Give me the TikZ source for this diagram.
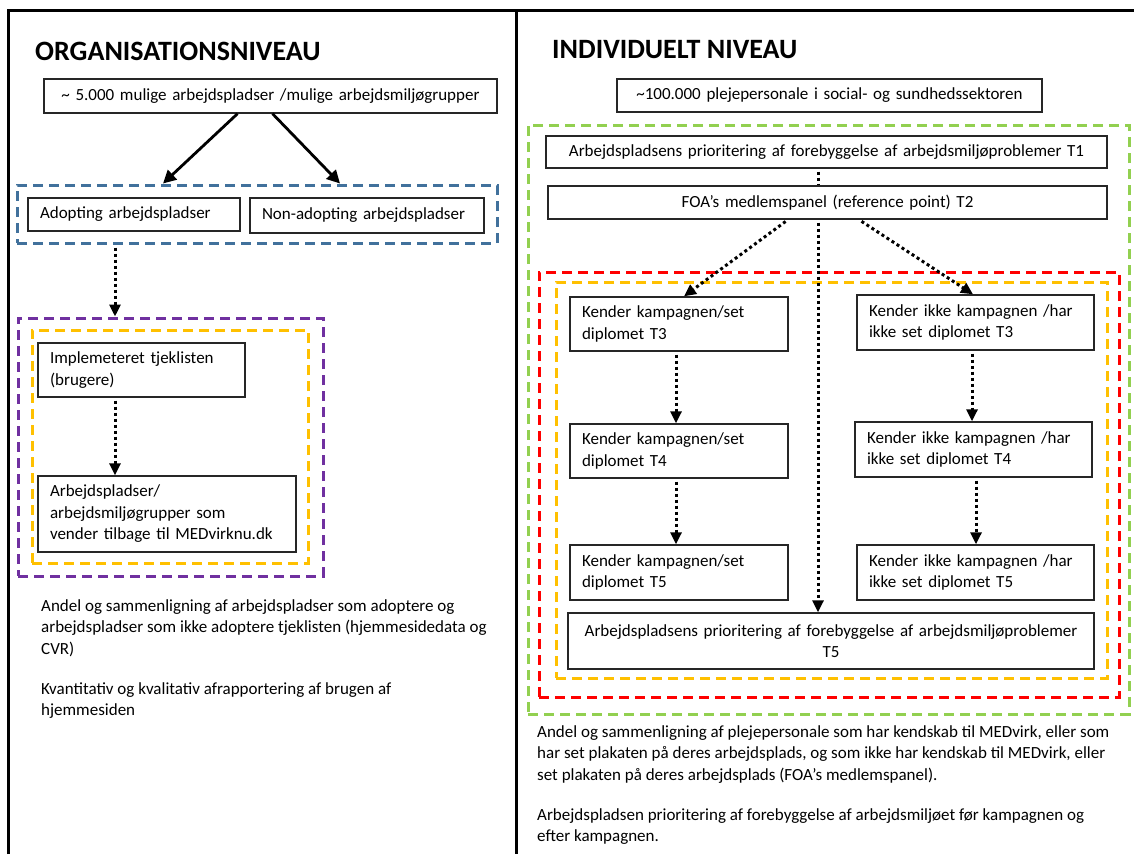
\documentclass[tikz,border=0pt]{standalone}
\usepackage{fontspec}
\setmainfont{Carlito}
\usetikzlibrary{arrows.meta}
\definecolor{dblue}{HTML}{41719C}
\definecolor{dpurple}{HTML}{7030A0}
\definecolor{dorange}{HTML}{FFC000}
\definecolor{dred}{HTML}{FF0000}
\definecolor{dgreen}{HTML}{92D050}
\hyphenpenalty=10000
\exhyphenpenalty=10000
\newcommand\bodyfont{\fontsize{17}{21.5}\selectfont}
\newcommand\titlefont{\fontsize{28}{30}\selectfont\bfseries}
\newcommand\bx[7]{%
  \pgfmathsetmacro\bxw{#4-#2}\pgfmathsetmacro\bxh{#5-#3}\pgfmathsetmacro\bxt{#4-#2-24}%
  \node[box,minimum width=\bxw pt,minimum height=\bxh pt,text width=\bxt pt,align=#6] (#1) at ({(#2+#4)/2},{(#3+#5)/2}) {#7};}
\newcommand\grpbox[6]{%
  \pgfmathsetmacro\bxw{#5-#3}\pgfmathsetmacro\bxh{#6-#4}%
  \node[grp,draw=#2,minimum width=\bxw pt,minimum height=\bxh pt] (#1) at ({(#3+#5)/2},{(#4+#6)/2}) {};}
\begin{document}
\begin{tikzpicture}[x=1pt,y=-1pt,
  box/.style={draw=black!85,line width=1.4pt,fill=white,inner xsep=12pt,inner ysep=0pt,font=\bodyfont},
  grp/.style={line width=3pt,dash pattern=on 10pt off 6pt,inner sep=0pt},
  solidarrow/.style={line width=2.8pt,-{Triangle[length=13pt,width=13pt]}},
  dotarrow/.style={line width=3pt,dash pattern=on 3pt off 3pt,shorten <=3pt,-{Triangle[length=12pt,width=11pt]}},
  dotline/.style={line width=3pt,dash pattern=on 3pt off 3pt},
  frame/.style={line width=3pt},
  note/.style={anchor=north west,inner sep=0pt,align=left,font=\bodyfont},
  title/.style={anchor=base west,inner sep=0pt,font=\titlefont}]
\useasboundingbox (0,0) rectangle (1134,854);
% frame
\draw[frame] (8,854) -- (8,10) -- (1134,10);
\draw[frame] (516,10) -- (516,854);
% titles
\node[title] (torg) at (35,60) {ORGANISATIONSNIVEAU};
\node[title] (tind) at (552,58) {INDIVIDUELT NIVEAU};
% ---------- left panel
\grpbox{blue}{dblue}{17}{185}{497}{243}
\grpbox{purple}{dpurple}{18}{318}{323}{576}
\grpbox{orl}{dorange}{32}{330}{308}{563}
\bx{top}{44}{79}{497}{113}{center}{\textasciitilde{} 5.000 mulige arbejdspladser /mulige arbejdsmiljøgrupper}
\bx{adopt}{28}{198}{240}{231}{left}{Adopting arbejdspladser}
\bx{nonad}{250}{198}{484}{233}{left}{Non-adopting arbejdspladser}
\bx{impl}{38}{343}{245}{397}{left}{Implemeteret tjeklisten\\(brugere)}
\bx{arbp}{38}{476}{296}{552}{left}{Arbejdspladser/\\arbejdsmiljøgrupper som\\vender tilbage til MEDvirknu.dk}
\draw[solidarrow] ([xshift=-33]top.south) -- ([xshift=-94]blue.north);
\draw[solidarrow] ([xshift=2]top.south) -- ([xshift=83]blue.north);
\coordinate (xl) at (115,0);
\draw[dotarrow] (blue.south -| xl) -- (purple.north -| xl);
\draw[dotarrow] (impl.south -| xl) -- (arbp.north -| xl);
\node[note] (n1) at (41,599) {Andel og sammenligning af arbejdspladser som adoptere og\\arbejdspladser som ikke adoptere tjeklisten (hjemmesidedata og\\CVR)};
\node[note] (n2) at (41,682) {Kvantitativ og kvalitativ afrapportering af brugen af\\hjemmesiden};
% ---------- right panel
\grpbox{green}{dgreen}{528}{125}{1129}{714}
\grpbox{red}{dred}{539}{272}{1119}{697}
\grpbox{orr}{dorange}{556}{282}{1107}{678}
\bx{top2}{617}{79}{1042}{112}{center}{\textasciitilde100.000 plejepersonale i social- og sundhedssektoren}
\bx{t1}{546}{136}{1107}{168}{center}{Arbejdspladsens prioritering af forebyggelse af arbejdsmiljøproblemer T1}
\bx{t2}{548}{186}{1107}{219}{center}{FOA’s medlemspanel (reference point) T2}
\bx{k3}{570}{297}{788}{351}{left}{Kender kampagnen/set\\diplomet T3}
\bx{n3}{857}{295}{1094}{350}{left}{Kender ikke kampagnen /har\\ikke set diplomet T3}
\bx{k4}{570}{424}{788}{478}{left}{Kender kampagnen/set\\diplomet T4}
\bx{n4}{855}{422}{1092}{477}{left}{Kender ikke kampagnen /har\\ikke set diplomet T4}
\bx{k5}{570}{545}{788}{600}{left}{Kender kampagnen/set\\diplomet T5}
\bx{n5}{857}{545}{1094}{600}{left}{Kender ikke kampagnen /har\\ikke set diplomet T5}
\bx{bot}{568}{613}{1094}{669}{center}{Arbejdspladsens prioritering af forebyggelse af arbejdsmiljøproblemer\\T5}
\coordinate (cx) at (818,0);
\coordinate (da) at (788,0);
\coordinate (db) at (859,0);
\coordinate (ea) at (684,0);
\coordinate (eb) at (973,0);
\coordinate (ka) at (676,0);
\coordinate (kb) at (972,0);
\coordinate (kc) at (976,0);
\draw[dotline,shorten <=3pt] (t1.south -| cx) -- (t2.north -| cx);
\draw[dotarrow] (t2.south -| cx) -- (bot.north -| cx);
\draw[dotarrow] (t2.south -| da) -- (k3.north -| ea);
\draw[dotarrow] (t2.south -| db) -- (n3.north -| eb);
\draw[dotarrow] (k3.south -| ka) -- (k4.north -| ka);
\draw[dotarrow] (k4.south -| ka) -- (k5.north -| ka);
\draw[dotarrow] (n3.south -| kb) -- (n4.north -| kb);
\draw[dotarrow] (n4.south -| kc) -- (n5.north -| kc);
\node[note] (n3t) at (537,725) {Andel og sammenligning af plejepersonale som har kendskab til MEDvirk, eller som\\har set plakaten på deres arbejdsplads, og som ikke har kendskab til MEDvirk, eller\\set plakaten på deres arbejdsplads (FOA’s medlemspanel).};
\node[note] (n4t) at (537,808) {Arbejdspladsen prioritering af forebyggelse af arbejdsmiljøet før kampagnen og\\efter kampagnen.};
\end{tikzpicture}
\end{document}
